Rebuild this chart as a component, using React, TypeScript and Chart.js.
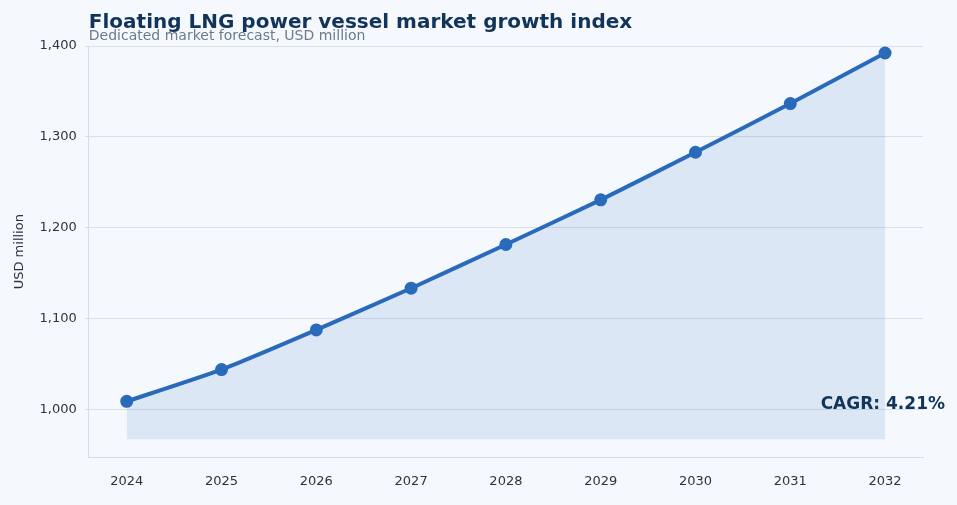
import { useEffect, useRef } from "react";
import { Chart, registerables } from "chart.js";
Chart.register(...registerables);

const years = [2024, 2025, 2026, 2027, 2028, 2029, 2030, 2031, 2032];
const values = [1008.7, 1043.7, 1087.4, 1133.3, 1181.4, 1230.6, 1283.0, 1336.6, 1392.3];
const yTicks = [1000, 1100, 1200, 1300, 1400];
const title = "Floating LNG power vessel market growth index";
const subtitle = "Dedicated market forecast, USD million";
const cagrLabel = "CAGR: 4.21%";
const fillBase = 967;

export default function App() {
  const ref = useRef<HTMLCanvasElement>(null);
  useEffect(() => {
    const overlay = {
      id: "overlay",
      afterDraw(chart: any) {
        const c = chart.ctx;
        const ca = chart.chartArea;
        c.save();
        c.textBaseline = "alphabetic";
        c.fillStyle = "#12345a";
        c.font = "bold 20px 'DejaVu Sans', sans-serif";
        c.textAlign = "left";
        c.fillText(title, ca.left, 28);
        c.fillStyle = "#6b7a8f";
        c.font = "14px 'DejaVu Sans', sans-serif";
        c.fillText(subtitle, ca.left, 40);
        c.fillStyle = "#12345a";
        c.font = "bold 17px 'DejaVu Sans', sans-serif";
        c.textAlign = "right";
        c.fillText(cagrLabel, 945, 409);
        c.restore();
      },
    };
    const bg = {
      id: "bg",
      beforeDraw(chart: any) {
        const c = chart.ctx;
        c.save();
        c.fillStyle = "#f5f9fd";
        c.fillRect(0, 0, chart.width, chart.height);
        c.restore();
      },
    };
    const chart = new Chart(ref.current!, {
      type: "line",
      data: {
        datasets: [
          {
            data: years.map((x, i) => ({ x, y: values[i] })),
            borderColor: "#2a6abb",
            borderWidth: 4,
            pointBackgroundColor: "#2a6abb",
            pointBorderColor: "#2a6abb",
            pointRadius: 4.5,
            fill: { value: fillBase },
            backgroundColor: "rgba(42,106,187,0.12)",
            tension: 0.15,
          },
        ],
      },
      options: {
        animation: false,
        responsive: false,
        layout: { padding: { top: 46, right: 34, left: 8, bottom: 8 } },
        plugins: { legend: { display: false }, tooltip: { enabled: false } },
        scales: {
          x: {
            type: "linear",
            min: 2023.6,
            max: 2032.4,
            afterBuildTicks: (s: any) => { s.ticks = years.map((v) => ({ value: v })); },
            ticks: { color: "#2b3440", font: { size: 13, family: "'DejaVu Sans', sans-serif" }, callback: (v: any) => String(v), padding: 8 },
            grid: { display: false },
            border: { color: "#d5dce6" },
          },
          y: {
            min: 947,
            max: 1400,
            afterBuildTicks: (s: any) => { s.ticks = yTicks.map((v) => ({ value: v })); },
            ticks: { color: "#2b3440", font: { size: 13, family: "'DejaVu Sans', sans-serif" }, padding: 8 },
            grid: { color: "#d8dfea", drawTicks: true, tickLength: 4 },
            border: { color: "#d5dce6" },
            title: { display: true, text: "USD million", color: "#2b3440", font: { size: 13, family: "'DejaVu Sans', sans-serif" } },
          },
        },
      },
      plugins: [bg, overlay],
    } as any);
    return () => chart.destroy();
  }, []);
  return (
    <div style={{ position: "fixed", left: 0, top: 0 }}>
      <canvas ref={ref} width={957} height={505} style={{ width: 957, height: 505, display: "block" }} />
    </div>
  );
}
